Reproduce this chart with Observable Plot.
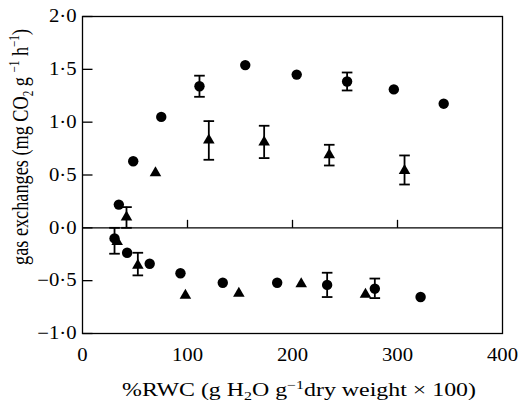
<!DOCTYPE html>
<html><head><meta charset="utf-8">
<script src="https://cdn.jsdelivr.net/npm/d3@7"></script>
<script src="https://cdn.jsdelivr.net/npm/@observablehq/plot@0.6"></script>
<style>body{margin:0;background:#fff} svg{font-family:"Liberation Serif",serif}</style>
</head><body><div id="chart"></div>
<script>
// Net photosynthesis (positive) – circles and triangles
const photoCircleX = [34.6, 48.3, 75, 111.4, 155, 204, 252, 296.5, 344];
const photoCircleY = [0.22, 0.63, 1.05, 1.34, 1.54, 1.45, 1.385, 1.31, 1.175];
const photoTriX = [41.9, 69.5, 120.3, 173, 235, 306.7];
const photoTriY = [0.10, 0.52, 0.83, 0.81, 0.69, 0.54];
// Respiration (negative) – circles and triangles
const respCircleX = [30.5, 42.5, 64, 93.3, 133.6, 185.4, 233, 278.4, 322];
const respCircleY = [-0.10, -0.236, -0.34, -0.43, -0.52, -0.52, -0.54, -0.576, -0.655];
const respTriX = [33, 52.7, 98, 148.9, 208.3, 269.5];
const respTriY = [-0.13, -0.356, -0.64, -0.62, -0.53, -0.63];
// Error bars
const errX  = [111.4, 252, 30.5, 233, 278.4, 41.9, 52.7, 120.3, 173, 235, 306.7];
const errLo = [1.24, 1.30, -0.245, -0.655, -0.665, 0.0, -0.45, 0.644, 0.66, 0.59, 0.41];
const errHi = [1.44, 1.47, 0.0, -0.425, -0.48, 0.196, -0.236, 1.01, 0.966, 0.786, 0.685];
// Ticks
const yTicks = [2.0, 1.5, 1.0, 0.5, 0.0, -0.5, -1.0];
const xTicks = [0, 100, 200, 300, 400];
const xInnerTicks = [100, 200, 300];

const circles = photoCircleX.map((x,i)=>({x, y: photoCircleY[i]}))
  .concat(respCircleX.map((x,i)=>({x, y: respCircleY[i]})));
const tris = photoTriX.map((x,i)=>({x, y: photoTriY[i]}))
  .concat(respTriX.map((x,i)=>({x, y: respTriY[i]})));
const errs = errX.map((x,i)=>({x, lo: errLo[i], hi: errHi[i]}));

const fmt = d => (d < 0 ? "\u2212" : "") + Math.abs(d).toFixed(1).replace(".", "\u00b7");
const capSymbol = { draw(ctx, size){ const r = Math.sqrt(size/Math.PI); ctx.moveTo(-r,0); ctx.lineTo(r,0); } };
const tickSymbolH = { draw(ctx, size){ const r = Math.sqrt(size/Math.PI); ctx.moveTo(0,0); ctx.lineTo(2*r,0); } };
const tickSymbolV = { draw(ctx, size){ const r = Math.sqrt(size/Math.PI); ctx.moveTo(0,0); ctx.lineTo(0,-2*r); } };

const plot = Plot.plot({
  width: 521, height: 403,
  marginLeft: 82, marginRight: 19, marginTop: 16, marginBottom: 70,
  style: {fontFamily: "'Liberation Serif', serif", fontSize: "18px", background: "#fff", color: "#000"},
  x: {domain: [0, 400], axis: null},
  y: {domain: [-1, 2], axis: null},
  marks: [
    Plot.frame({stroke: "#000", strokeWidth: 1.3}),
    Plot.ruleY([0], {stroke: "#000", strokeWidth: 1.3}),
    Plot.dot(yTicks, {x: 0, y: d => d, symbol: tickSymbolH, r: 5, stroke: "#000", strokeWidth: 1.3}),
    Plot.dot(xInnerTicks, {x: d => d, y: 0, symbol: tickSymbolV, r: 4, stroke: "#000", strokeWidth: 1.3}),
    Plot.text(yTicks, {x: 0, y: d => d, text: fmt, textAnchor: "end", dx: -6, fontSize: 18, fill: "#000"}),
    Plot.text(xTicks, {x: d => d, y: -1, text: d => String(d), dy: 22, fontSize: 18, fill: "#000"}),
    Plot.ruleX(errs, {x: "x", y1: "lo", y2: "hi", stroke: "#000", strokeWidth: 1.8}),
    Plot.dot(errs, {x: "x", y: "lo", symbol: capSymbol, r: 5.3, stroke: "#000", strokeWidth: 1.8}),
    Plot.dot(errs, {x: "x", y: "hi", symbol: capSymbol, r: 5.3, stroke: "#000", strokeWidth: 1.8}),
    Plot.dot(circles, {x: "x", y: "y", r: 5.2, fill: "#000", stroke: "none"}),
    Plot.dot(tris, {x: "x", y: "y", symbol: "triangle", r: 4.3, fill: "#000", stroke: "none"})
  ]
});

const svg = d3.select(plot);
// widen tick labels slightly (reference typeface is broad)
svg.selectAll('g[aria-label="text"] text').each(function(){
  const t = this.getAttribute("transform") || "";
  const x = +this.getAttribute("x") || 0, y = +this.getAttribute("y") || 0;
  this.setAttribute("transform", `${t} translate(${x},${y}) scale(1.15,1) translate(${-x},${-y})`);
});
// x-axis title
const xt = svg.append("text").attr("x", 122).attr("y", 396).attr("text-anchor", "start")
  .attr("font-size", 18).attr("fill", "#000").attr("font-family", "'Liberation Serif', serif")
  .attr("textLength", 354).attr("lengthAdjust", "spacingAndGlyphs");
xt.append("tspan").text("%RWC (g H");
xt.append("tspan").attr("font-size", 12).attr("dy", 4).text("2");
xt.append("tspan").attr("dy", -4).text("O g");
xt.append("tspan").attr("font-size", 12).attr("dy", -7).text("\u22121");
xt.append("tspan").attr("dy", 7).text("dry weight \u00d7 100)");
// y-axis title
const yt = svg.append("text").attr("transform", "translate(28,147) scale(1.25,1) rotate(-90)").attr("text-anchor", "middle")
  .attr("font-size", 18).attr("fill", "#000").attr("font-family", "'Liberation Serif', serif")
  .attr("textLength", 236).attr("lengthAdjust", "spacingAndGlyphs");
yt.append("tspan").text("gas exchanges (mg CO");
yt.append("tspan").attr("font-size", 11).attr("dy", 4).text("2");
yt.append("tspan").attr("dy", -4).text(" g ");
yt.append("tspan").attr("font-size", 11).attr("dy", -7).text("\u22121");
yt.append("tspan").attr("dy", 7).text(" h");
yt.append("tspan").attr("font-size", 11).attr("dy", -7).text("\u22121");
yt.append("tspan").attr("dy", 7).text(")");

document.getElementById("chart").appendChild(plot);
</script></body></html>
